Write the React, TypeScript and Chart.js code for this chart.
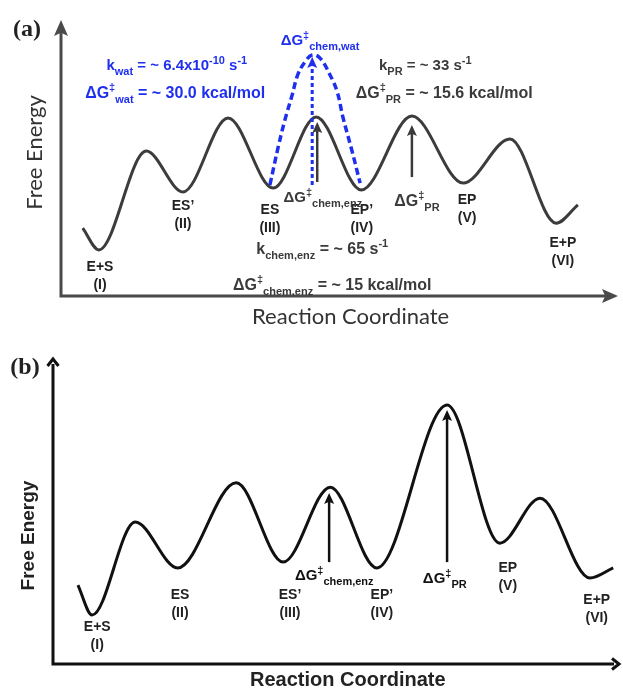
import { useEffect, useRef } from 'react';
import { Chart, registerables } from 'chart.js';

Chart.register(...registerables);

const BLUE = '#1f2ff0';
const GREY = '#3a3a3a';
const BLACK = '#111111';
const SANS = '"Liberation Sans", Arial, sans-serif';
const GILL = 'Lato, "Open Sans", sans-serif';
const SERIF = '"Liberation Serif", "Times New Roman", serif';

// ---------------- Panel (a) data ----------------
const coordA = [3.9, 6.8, 15.3, 21.9, 30.0, 38.1, 45.8, 53.9, 63.0, 72.2, 80.6, 88.9, 92.8];
const energyA = [24.6, 16.7, 52.5, 37.7, 64.5, 39.1, 64.9, 38.4, 65.2, 40.9, 56.9, 26.4, 33.0];
const watArcCoord = [37.5, 39.0, 40.2, 41.5, 42.5, 43.8, 45.1, 46.5, 48.3, 49.6, 50.6, 52.2, 53.7];
const watArcEnergy = [40.2, 54.0, 63.8, 72.8, 80.1, 84.8, 87.3, 86.2, 80.1, 73.9, 64.9, 52.9, 40.9];
const statesA = ['E+S', 'ES\u2019', 'ES', 'EP\u2019', 'EP', 'E+P'];
const romanA = ['(I)', '(II)', '(III)', '(IV)', '(V)', '(VI)'];
const stateXA = [7.0, 21.9, 37.5, 54.0, 72.9, 90.1];
const stateYA = [10.5, 32.6, 31.2, 31.2, 34.8, 19.2];
const arrowXA = [46.0, 63.0];
const arrowFromA = [41.3, 43.1];
const arrowToA = [63.0, 62.0];
const watArrowX = [45.1];
const watArrowFrom = [40.2];
const watArrowTo = [86.6];

// ---------------- Panel (b) data ----------------
const coordB = [4.4, 6.9, 14.5, 22.0, 32.3, 40.6, 48.9, 57.1, 69.5, 78.8, 85.9, 94.7, 98.8];
const energyB = [25.8, 16.0, 46.4, 31.4, 59.2, 33.3, 57.8, 31.4, 84.6, 39.5, 54.2, 28.1, 31.4];
const statesB = ['E+S', 'ES', 'ES\u2019', 'EP\u2019', 'EP', 'E+P'];
const romanB = ['(I)', '(II)', '(III)', '(IV)', '(V)', '(VI)'];
const stateXB = [7.8, 22.4, 41.8, 58.0, 80.2, 95.9];
const stateYB = [12.1, 22.5, 22.5, 22.5, 31.4, 20.9];
const arrowXB = [48.7, 69.5];
const arrowFromB = [33.3, 33.3];
const arrowToB = [55.9, 83.0];

type Seg = { t: string; k?: 'sub' | 'sup' };
const N = (t: string): Seg => ({ t });
const sub = (t: string): Seg => ({ t, k: 'sub' });
const sup = (t: string): Seg => ({ t, k: 'sup' });
const dG = (s: string): Seg[] => [N('\u0394G'), sup('\u2021'), sub(s)];

type Note = { segs: Seg[]; x: number; y: number; color: string; size: number };

const notesA: Note[] = [
  { segs: [N('k'), sub('wat'), N(' = ~ 6.4x10'), sup('-10'), N(' s'), sup('-1')], x: 20.8, y: 83.7, color: BLUE, size: 15 },
  { segs: [...dG('wat'), N(' = ~ 30.0 kcal/mol')], x: 20.5, y: 73.9, color: BLUE, size: 16 },
  { segs: dG('chem,wat'), x: 46.5, y: 92.8, color: BLUE, size: 15 },
  { segs: [N('k'), sub('PR'), N(' = ~ 33 s'), sup('-1')], x: 65.4, y: 83.7, color: GREY, size: 15 },
  { segs: [...dG('PR'), N(' = ~ 15.6 kcal/mol')], x: 68.8, y: 73.9, color: GREY, size: 16 },
  { segs: dG('chem,enz'), x: 47.0, y: 35.9, color: GREY, size: 15 },
  { segs: dG('PR'), x: 63.9, y: 34.8, color: GREY, size: 16 },
  { segs: [N('k'), sub('chem,enz'), N(' = ~ 65 s'), sup('-1')], x: 46.9, y: 17.4, color: GREY, size: 16 },
  { segs: [...dG('chem,enz'), N(' = ~ 15 kcal/mol')], x: 48.7, y: 4.3, color: GREY, size: 16 },
];

const notesB: Note[] = [
  { segs: dG('chem,enz'), x: 49.6, y: 29.1, color: BLACK, size: 15 },
  { segs: dG('PR'), x: 69.1, y: 28.1, color: BLACK, size: 15 },
];

function drawRich(ctx: CanvasRenderingContext2D, segs: Seg[], cx: number, cy: number, size: number, color: string, family = SANS, weight = 'bold') {
  const small = Math.round(size * 0.7);
  const fonts = segs.map((s) => `${weight} ${s.k ? small : size}px ${family}`);
  const widths = segs.map((s, i) => {
    ctx.font = fonts[i];
    return ctx.measureText(s.t).width;
  });
  const total = widths.reduce((a, b) => a + b, 0);
  let x = cx - total / 2;
  const base = cy + size * 0.36;
  ctx.fillStyle = color;
  ctx.textAlign = 'left';
  ctx.textBaseline = 'alphabetic';
  segs.forEach((s, i) => {
    ctx.font = fonts[i];
    const dy = s.k === 'sub' ? size * 0.3 : s.k === 'sup' ? -size * 0.4 : 0;
    ctx.fillText(s.t, x, base + dy);
    x += widths[i];
  });
}

function drawText(ctx: CanvasRenderingContext2D, t: string, x: number, y: number, font: string, color: string, rot = 0) {
  ctx.save();
  ctx.translate(x, y);
  ctx.rotate(rot);
  ctx.font = font;
  ctx.fillStyle = color;
  ctx.textAlign = 'center';
  ctx.textBaseline = 'middle';
  ctx.fillText(t, 0, 0);
  ctx.restore();
}

function head(ctx: CanvasRenderingContext2D, x: number, y: number, dir: 'up' | 'right', w: number, l: number, color: string, style: 'solid' | 'chevron', lw = 3) {
  ctx.save();
  ctx.translate(x, y);
  if (dir === 'right') ctx.rotate(Math.PI / 2);
  ctx.beginPath();
  if (style === 'solid') {
    ctx.moveTo(0, 0);
    ctx.lineTo(-w / 2, l);
    ctx.lineTo(0, l * 0.8);
    ctx.lineTo(w / 2, l);
    ctx.closePath();
    ctx.fillStyle = color;
    ctx.fill();
  } else {
    ctx.moveTo(-w / 2, l);
    ctx.lineTo(0, 1);
    ctx.lineTo(w / 2, l);
    ctx.strokeStyle = color;
    ctx.lineWidth = lw;
    ctx.lineJoin = 'miter';
    ctx.stroke();
  }
  ctx.restore();
}

function drawAxes(ctx: CanvasRenderingContext2D, a: any, color: string, style: 'solid' | 'chevron') {
  ctx.save();
  ctx.strokeStyle = color;
  ctx.lineWidth = 3;
  ctx.beginPath();
  ctx.moveTo(a.left, a.top + 6);
  ctx.lineTo(a.left, a.bottom);
  ctx.lineTo(a.right - 6, a.bottom);
  ctx.stroke();
  ctx.restore();
  if (style === 'solid') {
    head(ctx, a.left, a.top, 'up', 14, 16, color, style);
    head(ctx, a.right, a.bottom, 'right', 14, 16, color, style);
  } else {
    head(ctx, a.left, a.top, 'up', 11, 8, color, style);
    head(ctx, a.right, a.bottom, 'right', 11, 8, color, style);
  }
}

function drawArrow(ctx: CanvasRenderingContext2D, x: number, y0: number, y1: number, color: string, lw: number, dash: number[] = []) {
  ctx.save();
  ctx.strokeStyle = color;
  ctx.lineWidth = lw;
  ctx.setLineDash(dash);
  ctx.beginPath();
  ctx.moveTo(x, y0);
  ctx.lineTo(x, y1 + 8);
  ctx.stroke();
  ctx.restore();
  head(ctx, x, y1, 'up', 10, 11, color, 'solid');
}

const makeLine = (xs: number[], ys: number[]) => xs.map((x, i) => ({ x, y: ys[i] }));

const decorA = {
  id: 'decorA',
  afterDatasetsDraw(chart: any) {
    const { ctx, chartArea: a, scales } = chart;
    const px = (v: number) => scales.x.getPixelForValue(v);
    const py = (v: number) => scales.y.getPixelForValue(v);
    drawAxes(ctx, a, '#4a4a4a', 'solid');
    watArrowX.forEach((x, i) => drawArrow(ctx, px(x), py(watArrowFrom[i]), py(watArrowTo[i]), BLUE, 3, [4, 3]));
    arrowXA.forEach((x, i) => drawArrow(ctx, px(x), py(arrowFromA[i]), py(arrowToA[i]), GREY, 2.5));
    statesA.forEach((s, i) => {
      drawText(ctx, s, px(stateXA[i]), py(stateYA[i]), `bold 14px ${SANS}`, '#222');
      drawText(ctx, romanA[i], px(stateXA[i]), py(stateYA[i]) + 18, `bold 14px ${SANS}`, '#222');
    });
    notesA.forEach((n) => drawRich(ctx, n.segs, px(n.x), py(n.y), n.size, n.color));
    drawText(ctx, '(a)', a.left - 34, a.top + 10, `bold 24px ${SERIF}`, '#222');
    drawText(ctx, 'Free Energy', a.left - 26, a.top + (a.bottom - a.top) * 0.48, `22px ${GILL}`, '#333', -Math.PI / 2);
    drawText(ctx, 'Reaction Coordinate', a.left + (a.right - a.left) * 0.52, a.bottom + 21, `22px ${GILL}`, '#333');
  },
};

const decorB = {
  id: 'decorB',
  afterDatasetsDraw(chart: any) {
    const { ctx, chartArea: a, scales } = chart;
    const px = (v: number) => scales.x.getPixelForValue(v);
    const py = (v: number) => scales.y.getPixelForValue(v);
    drawAxes(ctx, a, BLACK, 'chevron');
    arrowXB.forEach((x, i) => drawArrow(ctx, px(x), py(arrowFromB[i]), py(arrowToB[i]), BLACK, 2.5));
    statesB.forEach((s, i) => {
      drawText(ctx, s, px(stateXB[i]), py(stateYB[i]), `bold 14px ${SANS}`, '#222');
      drawText(ctx, romanB[i], px(stateXB[i]), py(stateYB[i]) + 18, `bold 14px ${SANS}`, '#222');
    });
    notesB.forEach((n) => drawRich(ctx, n.segs, px(n.x), py(n.y), n.size, n.color));
    drawText(ctx, '(b)', a.left - 28, a.top + 10, `bold 24px ${SERIF}`, '#222');
    drawText(ctx, 'Free Energy', a.left - 24, a.top + (a.bottom - a.top) * 0.58, `bold 19px ${SANS}`, '#222', -Math.PI / 2);
    drawText(ctx, 'Reaction Coordinate', a.left + (a.right - a.left) * 0.52, a.bottom + 16, `bold 20px ${SANS}`, '#222');
  },
};

const baseOptions = (padding: any) => ({
  responsive: false,
  animation: false as const,
  events: [] as any[],
  layout: { padding },
  plugins: { legend: { display: false }, tooltip: { enabled: false } },
  elements: { point: { radius: 0 } },
  scales: {
    x: { type: 'linear' as const, min: 0, max: 100, display: false },
    y: { type: 'linear' as const, min: 0, max: 100, display: false },
  },
});

function configA(): any {
  return {
    type: 'line',
    data: {
      datasets: [
        { data: makeLine(coordA, energyA), borderColor: '#3c3c3c', borderWidth: 3, cubicInterpolationMode: 'monotone', clip: false },
        { data: makeLine(watArcCoord, watArcEnergy), borderColor: BLUE, borderWidth: 3.5, borderDash: [7, 4], tension: 0.4, clip: false },
      ],
    },
    options: baseOptions({ left: 61, right: 5, top: 20, bottom: 39 }),
    plugins: [decorA],
  };
}

function configB(): any {
  return {
    type: 'line',
    data: {
      datasets: [
        { data: makeLine(coordB, energyB), borderColor: BLACK, borderWidth: 3, cubicInterpolationMode: 'monotone', clip: false },
      ],
    },
    options: baseOptions({ left: 53, right: 3, top: 23, bottom: 25 }),
    plugins: [decorB],
  };
}

function Panel({ top, width, height, build }: { top: number; width: number; height: number; build: () => any }) {
  const ref = useRef<HTMLCanvasElement>(null);
  useEffect(() => {
    const chart = new Chart(ref.current as HTMLCanvasElement, build());
    return () => chart.destroy();
  }, []);
  return (
    <canvas
      ref={ref}
      width={width}
      height={height}
      style={{ position: 'absolute', left: 0, top, width, height, display: 'block' }}
    />
  );
}

export default function App() {
  return (
    <div style={{ position: 'absolute', left: 0, top: 0, width: 623, height: 689, background: '#fff' }}>
      <Panel top={0} width={623} height={335} build={configA} />
      <Panel top={335} width={623} height={354} build={configB} />
    </div>
  );
}
